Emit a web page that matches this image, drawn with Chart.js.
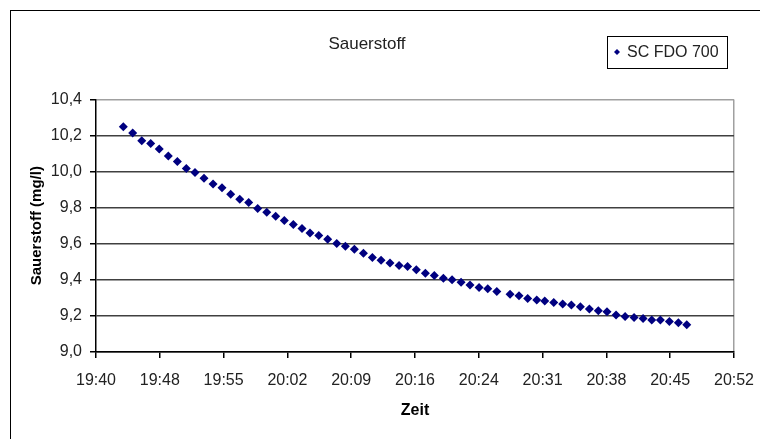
<!DOCTYPE html>
<html>
<head>
  <script src="https://cdn.jsdelivr.net/npm/chart.js"></script>
    <title>Sauerstoff</title>
    <style>
        html, body {
            margin: 0;
            padding: 0;
            background: white;
            overflow: hidden;
        }
        .frame {
            position: absolute;
            left: 10px;
            top: 10px;
            width: 800px;
            height: 500px;
            border: 1px solid #000;
        }
        .chart-container {
            position: absolute;
            left: 0;
            top: 0;
            width: 760px;
            height: 439px;
        }
    </style>
</head>
<body>
    <div class="frame"></div>
    <div class="chart-container">
        <canvas id="o2Chart"></canvas>
    </div>

    <script>
// Zeit in Minuten nach 19:40
const zeitMin = [
    3.08, 4.14, 5.16, 6.17, 7.14, 8.16, 9.18, 10.19, 11.17, 12.19,
    13.21, 14.22, 15.20, 16.22, 17.23, 18.25, 19.27, 20.28, 21.25, 22.27,
    23.25, 24.15, 25.14, 26.15, 27.17, 28.14, 29.16, 30.18, 31.19, 32.17,
    33.18, 34.20, 35.16, 36.15, 37.17, 38.18, 39.20, 40.18, 41.20, 42.21,
    43.23, 44.21, 45.23, 46.73, 47.74, 48.72, 49.74, 50.64, 51.66, 52.67,
    53.65, 54.66, 55.68, 56.69, 57.67, 58.69, 59.71, 60.72, 61.74, 62.72,
    63.69, 64.71, 65.72, 66.67
];
// Sauerstoff in mg/l
const sauerstoff = [
    10.248, 10.214, 10.171, 10.155, 10.125, 10.086, 10.056, 10.017, 9.995, 9.963,
    9.931, 9.911, 9.874, 9.846, 9.829, 9.796, 9.774, 9.753, 9.729, 9.707,
    9.684, 9.660, 9.645, 9.625, 9.601, 9.586, 9.569, 9.547, 9.524, 9.508,
    9.493, 9.480, 9.474, 9.456, 9.437, 9.424, 9.409, 9.401, 9.387, 9.372,
    9.357, 9.351, 9.335, 9.320, 9.312, 9.296, 9.288, 9.283, 9.275, 9.266,
    9.260, 9.251, 9.238, 9.229, 9.223, 9.205, 9.197, 9.191, 9.186, 9.178,
    9.178, 9.169, 9.162, 9.151
];
const zeitLabels = ['19:40', '19:48', '19:55', '20:02', '20:09', '20:16', '20:24', '20:31', '20:38', '20:45', '20:52'];
const serieName = 'SC FDO 700';

const FONT = '"Liberation Sans", Arial, sans-serif';
const navy = '#000080';

// Legende im Excel-Stil (Kasten oben rechts)
const legendBox = {
    id: 'legendBox',
    afterDraw(chart) {
        const ctx = chart.ctx;
        ctx.save();
        ctx.strokeStyle = '#000';
        ctx.lineWidth = 1;
        ctx.strokeRect(607.5, 36.5, 120, 32);
        ctx.fillStyle = navy;
        ctx.beginPath();
        ctx.moveTo(617, 49);
        ctx.lineTo(620, 52);
        ctx.lineTo(617, 55);
        ctx.lineTo(614, 52);
        ctx.closePath();
        ctx.fill();
        ctx.fillStyle = '#222';
        ctx.font = '16px ' + FONT;
        ctx.textBaseline = 'middle';
        ctx.fillText(serieName, 627, 53);
        ctx.restore();
    }
};

new Chart(document.getElementById('o2Chart'), {
    type: 'scatter',
    data: {
        datasets: [{
            label: serieName,
            data: zeitMin.map((t, i) => ({ x: t, y: sauerstoff[i] })),
            backgroundColor: navy,
            borderColor: navy,
            pointStyle: 'rectRot',
            pointRadius: 4.5,
            pointBorderWidth: 0
        }]
    },
    options: {
        responsive: true,
        maintainAspectRatio: false,
        animation: false,
        layout: {
            padding: { left: 0, right: 26, top: 0, bottom: 0 }
        },
        plugins: {
            legend: { display: false },
            tooltip: { enabled: false },
            title: {
                display: true,
                text: 'Sauerstoff',
                color: '#222',
                font: { family: FONT, size: 17, weight: 'normal' },
                padding: { top: 34, bottom: 45 }
            }
        },
        scales: {
            x: {
                type: 'linear',
                min: 0,
                max: 72,
                afterFit: s => { s.height = 87; s.paddingLeft = 0; s.paddingRight = 0; },
                ticks: {
                    stepSize: 7.2,
                    color: '#222',
                    padding: 13,
                    maxRotation: 0,
                    font: { family: FONT, size: 16 },
                    callback: (v, i) => zeitLabels[i]
                },
                grid: {
                    drawOnChartArea: true,
                    color: ctx => ctx.tick && ctx.tick.value === 72 ? '#a0a0a0' : 'rgba(0,0,0,0)',
                    tickColor: '#000',
                    tickLength: 6,
                    lineWidth: 1.5
                },
                border: { color: '#000', width: 1.5 },
                title: {
                    display: true,
                    text: 'Zeit',
                    color: '#000',
                    font: { family: FONT, size: 16, weight: 'bold' },
                    padding: { bottom: 19 }
                }
            },
            y: {
                min: 9.0,
                max: 10.4,
                afterFit: s => { s.width = 96; },
                ticks: {
                    stepSize: 0.2,
                    color: '#222',
                    padding: 8,
                    font: { family: FONT, size: 16 },
                    callback: v => v.toFixed(1).replace('.', ',')
                },
                grid: {
                    color: ctx => ctx.tick && Math.abs(ctx.tick.value - 10.4) < 1e-6 ? '#a0a0a0' : '#404040',
                    tickColor: '#000',
                    tickLength: 6,
                    lineWidth: 1.5
                },
                border: { color: '#000', width: 1.5 },
                title: {
                    display: true,
                    text: 'Sauerstoff (mg/l)',
                    color: '#000',
                    font: { family: FONT, size: 15, weight: 'bold' },
                    padding: { top: 28 }
                }
            }
        }
    },
    plugins: [legendBox]
});
</script>
</body>
</html>
